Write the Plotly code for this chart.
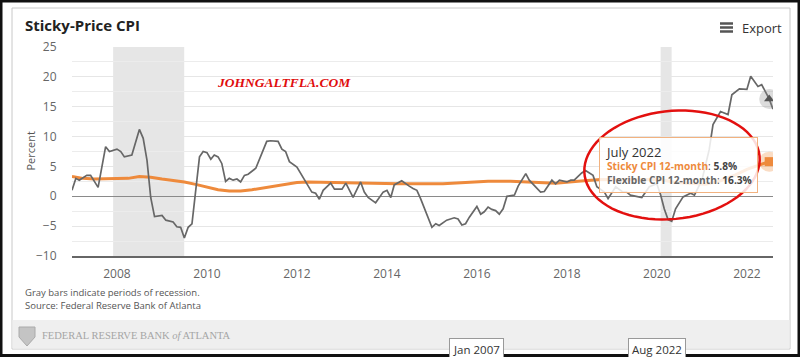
import numpy as np
import plotly.graph_objects as go

# ---------------- data ----------------
flex_dates = ["2007-01","2007-02","2007-03","2007-05","2007-06","2007-08","2007-10","2007-11",
              "2008-01","2008-02","2008-03","2008-05","2008-07","2008-08","2008-09","2008-10","2008-11",
              "2009-01","2009-02","2009-04","2009-05","2009-06","2009-07","2009-08","2009-09","2009-10","2009-11","2009-12",
              "2010-01","2010-02","2010-03","2010-04","2010-05","2010-06","2010-07","2010-08","2010-09","2010-10","2010-11","2010-12",
              "2011-02","2011-05","2011-06","2011-08","2011-09","2011-10","2011-11",
              "2012-01","2012-03","2012-05","2012-06","2012-07","2012-08","2012-10","2012-11",
              "2013-01","2013-02","2013-04","2013-06","2013-07","2013-08","2013-10","2013-12",
              "2014-01","2014-02","2014-03","2014-05","2014-06","2014-07","2014-08","2014-09","2014-10",
              "2015-01","2015-02","2015-03","2015-05","2015-07","2015-08","2015-09","2015-10","2015-11",
              "2016-01","2016-02","2016-03","2016-04","2016-05","2016-06","2016-07","2016-08","2016-09","2016-11","2016-12",
              "2017-02","2017-03","2017-06","2017-07","2017-09","2017-10","2017-11",
              "2018-01","2018-02","2018-03","2018-05","2018-06","2018-08","2018-09","2018-11","2018-12",
              "2019-01","2019-02","2019-04","2019-05","2019-06","2019-08","2019-09","2019-11",
              "2020-01","2020-02","2020-03","2020-04","2020-05","2020-06","2020-07","2020-08","2020-10","2020-11",
              "2021-01","2021-03","2021-04","2021-06","2021-08","2021-09","2021-11",
              "2022-01","2022-02","2022-04","2022-05","2022-07","2022-08"]
flex_values = [1.0,3.0,2.7,3.5,3.5,1.5,8.3,7.5,
               7.9,7.5,6.6,6.9,11.2,9.7,6.0,-0.2,-3.4,
               -3.2,-4.0,-4.3,-5.1,-5.2,-7.0,-5.2,-4.6,0.5,6.6,7.5,
               7.3,6.2,6.9,6.6,5.5,2.5,3.0,2.7,2.9,2.4,3.5,3.7,
               4.7,9.2,9.3,9.2,7.9,7.5,5.8,
               4.9,2.7,0.7,0.5,-0.5,1.0,2.2,1.2,
               1.2,2.2,-0.2,2.4,0.7,-0.2,-1.1,0.7,
               1.0,-0.2,1.9,2.6,2.1,1.7,1.3,1.0,-0.4,
               -5.2,-4.6,-4.9,-4.0,-3.6,-3.8,-4.8,-4.6,-3.5,
               -1.7,-3.0,-2.6,-1.8,-2.2,-2.4,-3.0,-2.1,0.0,0.2,1.7,
               3.8,2.7,0.7,0.8,2.7,2.1,2.7,
               2.4,2.7,2.7,3.9,4.3,3.5,1.6,0.7,-0.4,
               0.7,1.6,0.7,0.7,0.2,-0.1,-0.2,1.6,
               2.1,0.2,-2.1,-3.9,-4.2,-2.1,-1.2,-0.1,0.5,0.2,
               2.7,7.8,12.0,14.2,13.7,17.0,18.0,
               17.9,20.1,18.4,18.7,16.3,14.6]

sticky_dates = ["2007-01","2007-04","2007-07","2007-10","2008-01","2008-04","2008-07","2008-10",
                "2009-01","2009-04","2009-07","2009-10","2010-01","2010-04","2010-07","2010-10",
                "2011-01","2011-04","2011-07","2011-10","2012-01","2012-04","2012-10","2013-04",
                "2013-10","2014-04","2014-10","2015-04","2015-10","2016-04","2016-10","2017-04",
                "2017-10","2018-04","2018-10","2019-04","2019-10","2020-02","2020-06","2020-10",
                "2021-02","2021-06","2021-10","2022-01","2022-04","2022-07","2022-08"]
sticky_values = [3.3,3.0,2.9,2.9,2.9,3.0,3.3,3.2,
                 2.9,2.7,2.4,2.0,1.5,1.1,0.9,0.9,
                 1.1,1.4,1.6,2.0,2.3,2.4,2.3,2.2,
                 2.1,2.1,2.1,2.1,2.3,2.5,2.5,2.4,
                 2.2,2.5,2.8,2.8,2.8,2.8,2.3,2.2,
                 2.0,2.6,3.6,4.5,5.1,5.8,6.1]

recessions = [("2007-12-01", "2009-06-30"), ("2020-02-01", "2020-04-30")]
hover_month = "2022-07"
y_ticks = [-10, -5, 0, 5, 10, 15, 20, 25]

flex_d = [d + "-01" for d in flex_dates]
sticky_d = [d + "-01" for d in sticky_dates]

ORANGE = "#ee8a3c"
GRAY_LINE = "#676767"

# plot area in pixels
L, R, T, B = 72, 773, 47, 256
W, H = 800, 357
def px(xp):
    return (xp - L) / (R - L)
def py(yp):
    return (B - yp) / (B - T)

fig = go.Figure()

fig.add_trace(go.Scatter(x=sticky_d, y=sticky_values, mode="lines",
                         line=dict(color=ORANGE, width=3), name="Sticky CPI 12-month",
                         hoverinfo="skip"))
fig.add_trace(go.Scatter(x=flex_d, y=flex_values, mode="lines",
                         line=dict(color=GRAY_LINE, width=1.7), name="Flexible CPI 12-month",
                         hoverinfo="skip"))

hi = flex_dates.index(hover_month)
si = sticky_dates.index(hover_month)
# halos + markers
fig.add_trace(go.Scatter(x=[flex_d[hi]], y=[flex_values[hi]], mode="markers",
                         marker=dict(size=20, color="rgba(140,140,140,0.3)"), hoverinfo="skip"))
fig.add_trace(go.Scatter(x=[flex_d[hi]], y=[flex_values[hi]], mode="markers",
                         marker=dict(size=9, symbol="triangle-up", color="#555"), hoverinfo="skip"))
fig.add_trace(go.Scatter(x=[sticky_d[si]], y=[sticky_values[si]], mode="markers",
                         marker=dict(size=20, color="rgba(238,138,60,0.3)"), hoverinfo="skip"))
fig.add_trace(go.Scatter(x=[sticky_d[si]], y=[sticky_values[si]], mode="markers",
                         marker=dict(size=9, symbol="square", color=ORANGE), hoverinfo="skip"))

shapes = []
for a, b in recessions:
    shapes.append(dict(type="rect", xref="x", yref="paper", x0=a, x1=b, y0=0, y1=1,
                       fillcolor="#e6e6e6", line=dict(width=0), layer="below"))
# outer black border
shapes.append(dict(type="rect", xref="paper", yref="paper", x0=px(1), x1=px(799), y0=py(355.5), y1=py(1),
                   line=dict(color="#111", width=3), layer="above"))
# inner light border panel
shapes.append(dict(type="rect", xref="paper", yref="paper", x0=px(12), x1=px(790), y0=py(349), y1=py(8),
                   line=dict(color="#c8c8c8", width=1), layer="below"))
# footer band
shapes.append(dict(type="rect", xref="paper", yref="paper", x0=px(12.5), x1=px(789.5), y0=py(348.5), y1=py(320),
                   fillcolor="#efefef", line=dict(width=0), layer="below"))
# export icon (three bars)
for yy in (23.5, 27.5, 31.5):
    shapes.append(dict(type="line", xref="paper", yref="paper", x0=px(720), x1=px(733), y0=py(yy), y1=py(yy),
                       line=dict(color="#555", width=2.5)))
# small logo shield
shapes.append(dict(type="path", xref="paper", yref="paper",
                   path="M {} {} L {} {} L {} {} L {} {} L {} {} Z".format(
                       px(19), py(327), px(35), py(327), px(35), py(337), px(27), py(346), px(19), py(337)),
                   fillcolor="#c4c4c4", line=dict(color="#aaa", width=1)))
# red hand-drawn ellipse (tilted)
t = np.linspace(0, 2 * np.pi, 80)
cx, cy, rx, ry, ang = 672, 165, 88, 54, np.deg2rad(-6)
ex = cx + rx * np.cos(t) * np.cos(ang) - ry * np.sin(t) * np.sin(ang)
ey = cy + rx * np.cos(t) * np.sin(ang) + ry * np.sin(t) * np.cos(ang)
path = "M " + " L ".join(f"{px(a):.5f},{py(b):.5f}" for a, b in zip(ex, ey)) + " Z"
shapes.append(dict(type="path", xref="paper", yref="paper", path=path,
                   line=dict(color="#e3100f", width=2.5), layer="above"))

FONT = "Open Sans"
ann = []
ann.append(dict(xref="paper", yref="paper", x=px(23), y=py(25), xanchor="left", yanchor="middle",
                text="<b>Sticky-Price CPI</b>", showarrow=False,
                font=dict(family=FONT, size=15, color="#222")))
ann.append(dict(xref="paper", yref="paper", x=px(740), y=py(28), xanchor="left", yanchor="middle",
                text="Export", showarrow=False, font=dict(family=FONT, size=13, color="#333")))
ann.append(dict(xref="paper", yref="paper", x=px(215), y=py(82), xanchor="left", yanchor="middle",
                text="<b><i>JOHNGALTFLA.COM</i></b>", showarrow=False,
                font=dict(family="Liberation Serif", size=13.5, color="#e00d0d")))
ann.append(dict(xref="paper", yref="paper", x=px(23), y=py(292), xanchor="left", yanchor="middle",
                text="Gray bars indicate periods of recession.", showarrow=False,
                font=dict(family=FONT, size=9.5, color="#555")))
ann.append(dict(xref="paper", yref="paper", x=px(23), y=py(305), xanchor="left", yanchor="middle",
                text="Source: Federal Reserve Bank of Atlanta", showarrow=False,
                font=dict(family=FONT, size=9.5, color="#555")))
ann.append(dict(xref="paper", yref="paper", x=px(40), y=py(335), xanchor="left", yanchor="middle",
                text="FEDERAL RESERVE BANK <i>of</i> ATLANTA", showarrow=False,
                font=dict(family="Liberation Serif", size=10.5, color="#a5a5a5")))
for lbl, xc in (("Jan 2007", 476), ("Aug 2022", 657)):
    ann.append(dict(xref="paper", yref="paper", x=px(xc), y=py(349), xanchor="center", yanchor="middle",
                    text=lbl, showarrow=False, bgcolor="white", bordercolor="#999", borderwidth=1,
                    borderpad=3, font=dict(family=FONT, size=11.5, color="#333")))
tip = ("<span style='font-size:13px;color:#333'>July 2022</span><br>"
       f"<b><span style='color:{ORANGE}'>Sticky CPI 12-month</span></b>: <b>{sticky_values[si]:.1f}%</b><br>"
       f"<b><span style='color:#666'>Flexible CPI 12-month</span></b>: <b>{flex_values[hi]:.1f}%</b>")
ann.append(dict(xref="paper", yref="paper", x=px(599), y=py(137), xanchor="left", yanchor="top",
                text=tip, showarrow=False, align="left", bgcolor="rgba(255,255,255,0.85)",
                bordercolor="#f2b27f", borderwidth=1, borderpad=5,
                font=dict(family=FONT, size=10.2, color="#444")))
ann.append(dict(xref="paper", yref="paper", x=px(30), y=0.5, xanchor="center", yanchor="middle",
                text="Percent", textangle=-90, showarrow=False,
                font=dict(family=FONT, size=11, color="#555")))

fig.update_layout(
    width=W, height=H,
    margin=dict(l=L, r=W - R, t=T, b=H - B),
    paper_bgcolor="white", plot_bgcolor="rgba(0,0,0,0)",
    showlegend=False,
    shapes=shapes, annotations=ann,
    font=dict(family=FONT, color="#666"),
    hovermode=False,
)
fig.update_xaxes(type="date", range=["2007-01-01", "2022-08-01"],
                 tick0="2008-01-01", dtick="M24", tickformat="%Y",
                 showgrid=False, showline=True, linecolor="#666", linewidth=2,
                 ticks="outside", ticklen=6, tickcolor="rgba(0,0,0,0)",
                 tickfont=dict(family=FONT, size=12, color="#666"), fixedrange=True)
fig.update_yaxes(range=[-10, 25], tickvals=y_ticks, showgrid=True, gridcolor="#e6e6e6", gridwidth=1,
                 minor=dict(dtick=2.5, showgrid=True, gridcolor="#ececec", gridwidth=1),
                 zeroline=True, zerolinecolor="#8a8a8a", zerolinewidth=1.3,
                 ticks="outside", ticklen=12, tickcolor="rgba(0,0,0,0)",
                 tickfont=dict(family=FONT, size=12, color="#666"), fixedrange=True)

fig.write_html("out.html", config={"displayModeBar": False})
